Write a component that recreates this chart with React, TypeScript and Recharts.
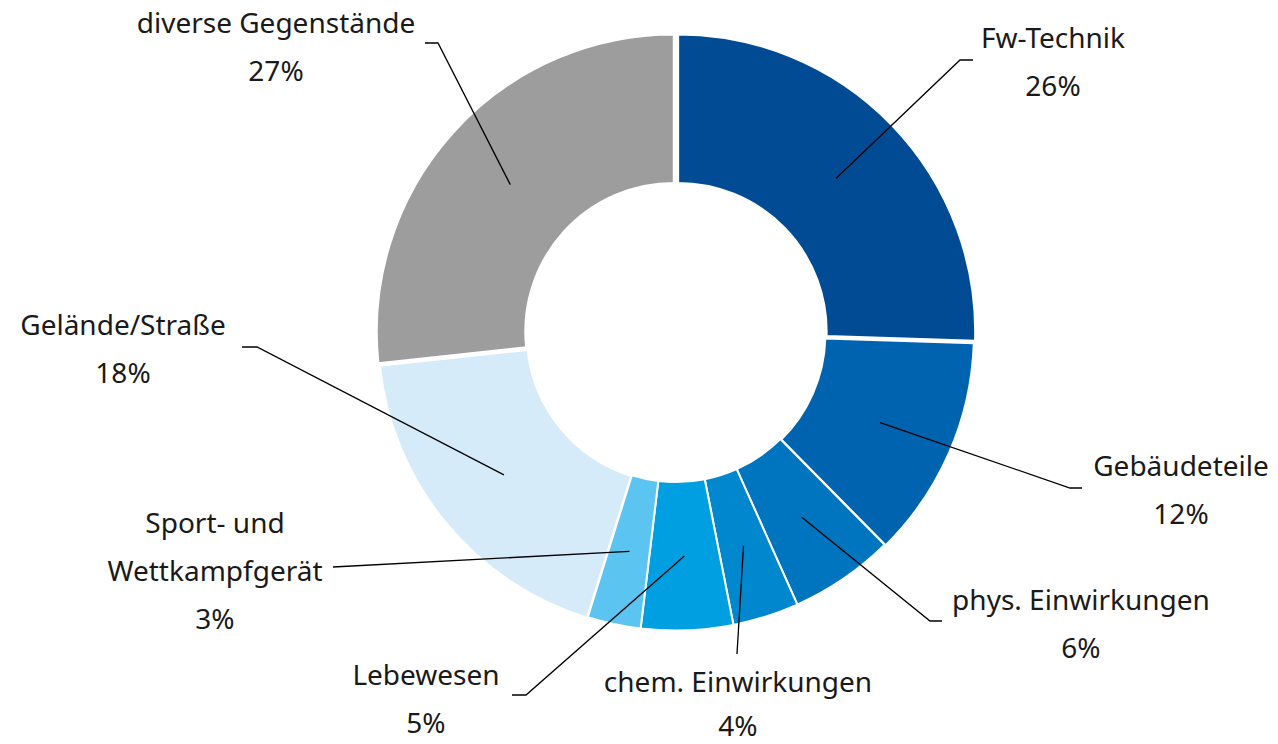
import React from 'react';
import { PieChart, Pie, Cell, Sector } from 'recharts';

const categories = [
  'Fw-Technik',
  'Gebäudeteile',
  'phys. Einwirkungen',
  'chem. Einwirkungen',
  'Lebewesen',
  'Sport- und Wettkampfgerät',
  'Gelände/Straße',
  'diverse Gegenstände',
];
const labelTexts = [
  ['Fw-Technik'],
  ['Gebäudeteile'],
  ['phys. Einwirkungen'],
  ['chem. Einwirkungen'],
  ['Lebewesen'],
  ['Sport- und', 'Wettkampfgerät'],
  ['Gelände/Straße'],
  ['diverse Gegenstände'],
];
const shares = [25.5, 12.1, 5.7, 3.6, 5.0, 2.9, 18.5, 26.7];
const percentLabels = ['26%', '12%', '6%', '4%', '5%', '3%', '18%', '27%'];

const colors = ['#004B93', '#0063AF', '#0075BF', '#0087CD', '#009FE1', '#5BC4F1', '#D5EBFA', '#9D9D9D'];
const explode = [3, 1, 0, 0, 0, 0, 1, 3];

// label layout: elbow point (or null), line end, text centre x, first baseline y, line gap
const labelLayout = [
  { elbow: [960, 60], end: [973, 60], tx: 1053, ty: 48, gap: 48 },
  { elbow: [1070, 488], end: [1082, 488], tx: 1181, ty: 476, gap: 48 },
  { elbow: [930, 621], end: [942, 621], tx: 1081, ty: 610, gap: 48 },
  { elbow: null, end: [737, 654], tx: 738, ty: 692, gap: 44 },
  { elbow: [526, 695], end: [512, 695], tx: 426, ty: 685, gap: 48 },
  { elbow: null, end: [333, 567], tx: 215, ty: 533, gap: 48 },
  { elbow: [257, 347], end: [242, 347], tx: 123, ty: 335, gap: 48 },
  { elbow: [438, 43], end: [425, 43], tx: 276, ty: 33, gap: 48 },
];
const RAD = Math.PI / 180;
const FONT = '"Noto Sans", "Open Sans", sans-serif';

const data = categories.map((name, i) => ({ name, value: shares[i] }));

const renderSector = (props: any) => {
  const name = props.name ?? props.payload?.name;
  const i = categories.indexOf(name);
  const off = i >= 0 ? explode[i] : 0;
  const mid = (props.startAngle + props.endAngle) / 2;
  const dx = off * Math.cos(-mid * RAD);
  const dy = off * Math.sin(-mid * RAD);
  return <Sector {...props} cx={props.cx + dx} cy={props.cy + dy} />;
};

const renderLabel = (props: any) => {
  const { cx, cy, midAngle, innerRadius, outerRadius, index } = props;
  const r = (innerRadius + outerRadius) / 2;
  const sx = cx + r * Math.cos(-midAngle * RAD);
  const sy = cy + r * Math.sin(-midAngle * RAD);
  const L = labelLayout[index];
  const pts = [[sx, sy]];
  if (L.elbow) pts.push(L.elbow as number[]);
  pts.push(L.end as number[]);
  const lines = [...labelTexts[index], percentLabels[index]];
  return (
    <g key={`lbl-${index}`}>
      <polyline
        points={pts.map((p) => p.join(',')).join(' ')}
        fill="none"
        stroke="#000"
        strokeWidth={1.3}
      />
      {lines.map((t, k) => (
        <text
          key={k}
          x={L.tx}
          y={L.ty + k * L.gap}
          textAnchor="middle"
          fontFamily={FONT}
          fontSize={28}
          fill="#1a1a1a"
        >
          {t}
        </text>
      ))}
    </g>
  );
};

export default function App() {
  return (
    <div style={{ position: 'absolute', left: 0, top: 0, width: 1278, height: 744, background: '#fff' }}>
      <PieChart width={1278} height={744} margin={{ top: 0, right: 0, bottom: 0, left: 0 }}>
        <Pie
          data={data}
          dataKey="value"
          nameKey="name"
          cx={676}
          cy={333.5}
          innerRadius={148.5}
          outerRadius={297}
          startAngle={90}
          endAngle={-270}
          paddingAngle={0}
          stroke="#fff"
          strokeWidth={2}
          isAnimationActive={false}
          label={renderLabel}
          labelLine={false}
          shape={renderSector}
        >
          {data.map((d, i) => (
            <Cell key={d.name} fill={colors[i]} stroke="#fff" strokeWidth={2} />
          ))}
        </Pie>
      </PieChart>
    </div>
  );
}
